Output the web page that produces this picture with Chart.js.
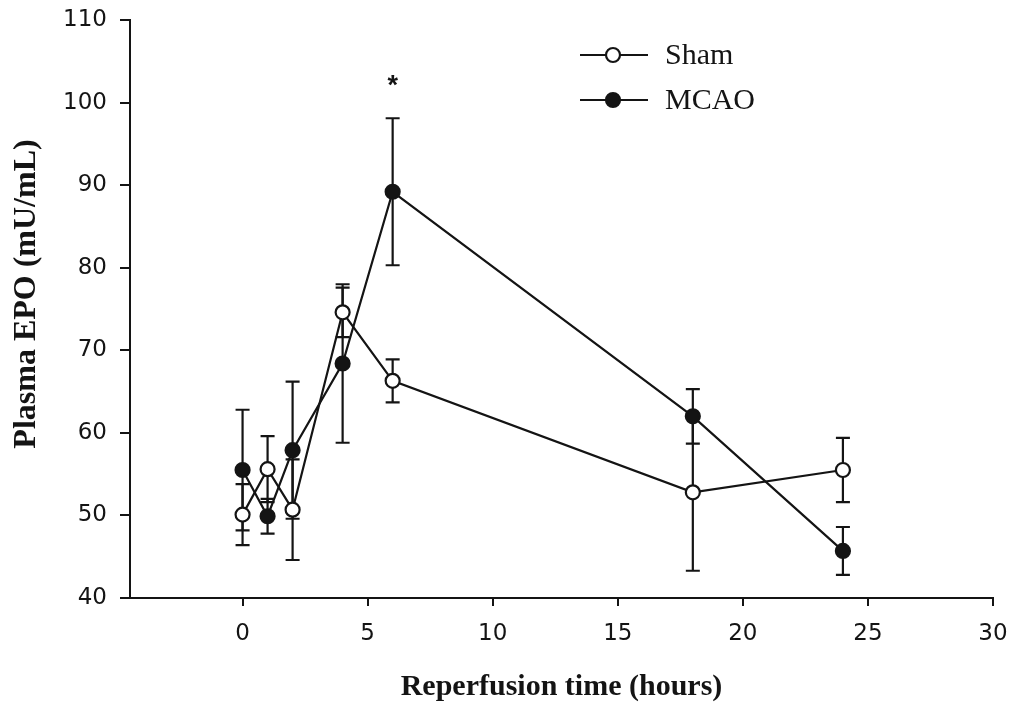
<!DOCTYPE html>
<html>
<head>
<meta charset="utf-8">
<title>Plasma EPO</title>
<script src="https://cdn.jsdelivr.net/npm/chart.js@4.4.0/dist/chart.umd.min.js"></script>
<style>
  html, body { margin: 0; padding: 0; background: #fff; }
  #chart { display: block; }
</style>
</head>
<body>
<canvas id="chart" width="1013" height="711"></canvas>
<script>
// ======================
// data
// ======================
const hours = [0, 1, 2, 4, 6, 18, 24];

const shamMean = [50.1, 55.6, 50.7, 74.6, 66.3, 52.8, 55.5];
const shamErr  = [3.7, 4.0, 6.1, 3.0, 2.6, 9.5, 3.9];

const mcaoMean = [55.5, 49.9, 57.9, 68.4, 89.2, 62.0, 45.7];
const mcaoErr  = [7.3, 2.1, 8.3, 9.6, 8.9, 3.3, 2.9];

const xTicks = [0, 5, 10, 15, 20, 25, 30];
const yTicks = [40, 50, 60, 70, 80, 90, 100, 110];

// significance mark
const starHour = 6;
const starValue = 101.0;

const INK = "#141414";
const SANS = "'DejaVu Sans', 'Liberation Sans', Arial, sans-serif";
const SERIF = "'Liberation Serif', 'Times New Roman', serif";

// ======================
// plugins
// ======================
const errorBars = {
  id: "errorBars",
  beforeDatasetsDraw(chart) {
    const { ctx, scales: { x, y } } = chart;
    ctx.save();
    ctx.strokeStyle = INK;
    ctx.lineWidth = 2.2;
    chart.data.datasets.forEach(ds => {
      ds.data.forEach((p, i) => {
        const px = x.getPixelForValue(p.x);
        const top = y.getPixelForValue(p.y + ds.errors[i]);
        const bot = y.getPixelForValue(p.y - ds.errors[i]);
        ctx.beginPath();
        ctx.moveTo(px, top); ctx.lineTo(px, bot);
        ctx.moveTo(px - 7, top); ctx.lineTo(px + 7, top);
        ctx.moveTo(px - 7, bot); ctx.lineTo(px + 7, bot);
        ctx.stroke();
      });
    });
    ctx.restore();
  }
};

const starMark = {
  id: "starMark",
  afterDatasetsDraw(chart) {
    const { ctx, scales: { x, y } } = chart;
    ctx.save();
    ctx.fillStyle = INK;
    ctx.font = "bold 27px 'Liberation Sans', Arial, sans-serif";
    ctx.textAlign = "center";
    ctx.textBaseline = "alphabetic";
    ctx.fillText("*", x.getPixelForValue(starHour), y.getPixelForValue(starValue));
    ctx.restore();
  }
};

// y title drawn by hand so it sits where the original has it
const yTitle = {
  id: "yTitle",
  afterDraw(chart) {
    const { ctx } = chart;
    ctx.save();
    ctx.translate(27, 294);
    ctx.rotate(-Math.PI / 2);
    ctx.fillStyle = INK;
    ctx.font = "bold 32px " + SERIF;
    ctx.textAlign = "center";
    ctx.textBaseline = "middle";
    ctx.fillText("Plasma EPO (mU/mL)", 0, 0);
    ctx.restore();
  }
};

// legend: line with marker in the middle, like the original figure
const sideLegend = {
  id: "sideLegend",
  afterDraw(chart) {
    const { ctx } = chart;
    const rows = [
      { label: "Sham", fill: "#fff", y: 55 },
      { label: "MCAO", fill: INK, y: 100 }
    ];
    ctx.save();
    rows.forEach(r => {
      ctx.strokeStyle = INK;
      ctx.lineWidth = 2.2;
      ctx.beginPath();
      ctx.moveTo(580, r.y); ctx.lineTo(648, r.y);
      ctx.stroke();
      ctx.beginPath();
      ctx.arc(613, r.y, 7, 0, Math.PI * 2);
      ctx.fillStyle = r.fill;
      ctx.fill();
      ctx.stroke();
      ctx.fillStyle = INK;
      ctx.font = "30px " + SERIF;
      ctx.textAlign = "left";
      ctx.textBaseline = "middle";
      ctx.fillText(r.label, 665, r.y + 1);
    });
    ctx.restore();
  }
};

// ======================
// chart
// ======================
function makeSet(label, mean, err, fill) {
  return {
    label,
    data: hours.map((h, i) => ({ x: h, y: mean[i] })),
    errors: err,
    borderColor: INK,
    borderWidth: 2.2,
    tension: 0,
    pointRadius: 7,
    pointBorderWidth: 2.2,
    pointBorderColor: INK,
    pointBackgroundColor: fill
  };
}

const axisGrid = {
  drawOnChartArea: false,
  drawTicks: true,
  color: INK,
  lineWidth: 2
};

new Chart(document.getElementById("chart"), {
  type: "line",
  data: {
    datasets: [
      makeSet("Sham", shamMean, shamErr, "#fff"),
      makeSet("MCAO", mcaoMean, mcaoErr, INK)
    ]
  },
  options: {
    responsive: false,
    animation: false,
    layout: { padding: { top: 20, right: 20, left: 0, bottom: 0 } },
    plugins: {
      legend: { display: false },
      tooltip: { enabled: false }
    },
    scales: {
      x: {
        type: "linear",
        min: -4.5,
        max: 30,
        afterBuildTicks: axis => { axis.ticks = xTicks.map(v => ({ value: v })); },
        afterFit: scale => {
          scale.height = 113;
          scale.paddingLeft = 0;
          scale.paddingRight = 0;
        },
        grid: { ...axisGrid, tickLength: 8 },
        border: { display: true, color: INK, width: 2 },
        ticks: {
          color: INK,
          padding: 14,
          maxRotation: 0,
          font: { family: SANS, size: 23 }
        },
        title: {
          display: true,
          text: "Reperfusion time (hours)",
          color: INK,
          padding: { top: 0, bottom: 6 },
          font: { family: SERIF, size: 30, weight: "bold", lineHeight: 1.2 }
        }
      },
      y: {
        min: 40,
        max: 110,
        afterBuildTicks: axis => { axis.ticks = yTicks.map(v => ({ value: v })); },
        afterFit: scale => {
          scale.width = 130;
          scale.paddingTop = 0;
          scale.paddingBottom = 0;
        },
        grid: { ...axisGrid, tickLength: 10 },
        border: { display: true, color: INK, width: 2 },
        ticks: {
          color: INK,
          padding: 13,
          font: { family: SANS, size: 23 }
        }
      }
    }
  },
  plugins: [errorBars, starMark, yTitle, sideLegend]
});
</script>
</body>
</html>
